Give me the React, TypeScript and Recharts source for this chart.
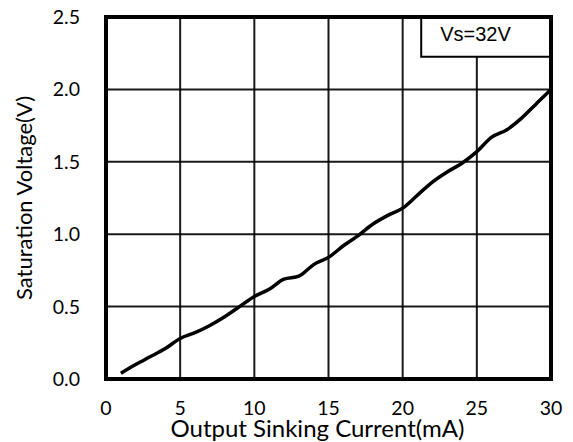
import React from 'react';
import {
  LineChart,
  Line,
  XAxis,
  YAxis,
  CartesianGrid,
  ReferenceArea,
  Label,
} from 'recharts';

const currentMA = [1, 2, 3, 4, 5, 6, 7, 8, 9, 10, 11, 12, 13, 14, 15, 16, 17, 18, 19, 20, 21, 22, 23, 24, 25, 26, 27, 28, 29, 30];
const saturationV = [0.04, 0.1, 0.155, 0.21, 0.28, 0.32, 0.37, 0.43, 0.5, 0.57, 0.62, 0.69, 0.71, 0.79, 0.84, 0.92, 0.99, 1.07, 1.13, 1.18, 1.27, 1.36, 1.43, 1.49, 1.57, 1.67, 1.72, 1.8, 1.9, 2.0];
const xTicks = [0, 5, 10, 15, 20, 25, 30];
const yTicks = [0, 0.5, 1.0, 1.5, 2.0, 2.5];
const legendText = 'Vs=32V';
const legendBox = { x1: 21.25, x2: 30, y1: 2.225, y2: 2.5 };

const data = currentMA.map((x, i) => ({ x, v: saturationV[i] }));

const FONT = 'Lato, "DejaVu Sans", sans-serif';

const YTitle = (props: any) => {
  const vb = props.viewBox || {};
  const cx = vb.x - 23;
  const cy = vb.y + vb.height / 2;
  return (
    <text
      x={cx}
      y={cy}
      transform={`rotate(-90 ${cx} ${cy})`}
      textAnchor="middle"
      dominantBaseline="central"
      fontSize={22}
      fontFamily={FONT}
      fill="#000"
    >
      Saturation Voltage(V)
    </text>
  );
};

const XTitle = (props: any) => {
  const vb = props.viewBox || {};
  const cx = vb.x + vb.width / 2 - 11;
  const cy = vb.y + 58;
  return (
    <text x={cx} y={cy} textAnchor="middle" fontSize={24} fontFamily={FONT} fill="#000">
      Output Sinking Current(mA)
    </text>
  );
};

const LegendLabel = (props: any) => {
  const vb = props.viewBox || {};
  return (
    <text
      x={vb.x + 19}
      y={vb.y + vb.height / 2 - 3}
      textAnchor="start"
      dominantBaseline="central"
      fontSize={20}
      fontFamily='"Liberation Sans", Arial, sans-serif'
      fill="#000"
    >
      {legendText}
    </text>
  );
};

export default function App() {
  return (
    <div style={{ position: 'absolute', left: 0, top: 0, width: 573, height: 442, background: '#fff' }}>
      <LineChart
        width={573}
        height={442}
        data={data}
        margin={{ top: 17, right: 22, bottom: 23, left: 46 }}
      >
        <CartesianGrid stroke="#000" strokeWidth={2} strokeOpacity={0.9} />
        <XAxis
          dataKey="x"
          type="number"
          domain={[0, 30]}
          ticks={xTicks}
          axisLine={false}
          tickLine={false}
          tickSize={0}
          tickMargin={22}
          height={40}
          tick={{ fill: '#000', fontSize: 19.5, fontFamily: FONT }}
          interval={0}
        >
          <Label content={<XTitle />} />
        </XAxis>
        <YAxis
          type="number"
          domain={[0, 2.5]}
          ticks={yTicks}
          axisLine={false}
          tickLine={false}
          tickSize={0}
          tickMargin={26}
          width={60}
          tick={{ fill: '#000', fontSize: 19.5, fontFamily: FONT }}
          tickFormatter={(v: number) => v.toFixed(1)}
          interval={0}
        >
          <Label content={<YTitle />} />
        </YAxis>
        <ReferenceArea
          x1={legendBox.x1}
          x2={legendBox.x2}
          y1={legendBox.y1}
          y2={legendBox.y2}
          fill="#fff"
          fillOpacity={1}
          stroke="#000"
          strokeWidth={2}
          label={<LegendLabel />}
          ifOverflow="visible"
        />
        <Line
          type="monotone"
          dataKey="v"
          stroke="#000"
          strokeWidth={3.5}
          dot={false}
          isAnimationActive={false}
        />
        <ReferenceArea
          x1={0}
          x2={30}
          y1={0}
          y2={2.5}
          fill="none"
          stroke="#000"
          strokeWidth={4}
          ifOverflow="visible"
        />
      </LineChart>
    </div>
  );
}
